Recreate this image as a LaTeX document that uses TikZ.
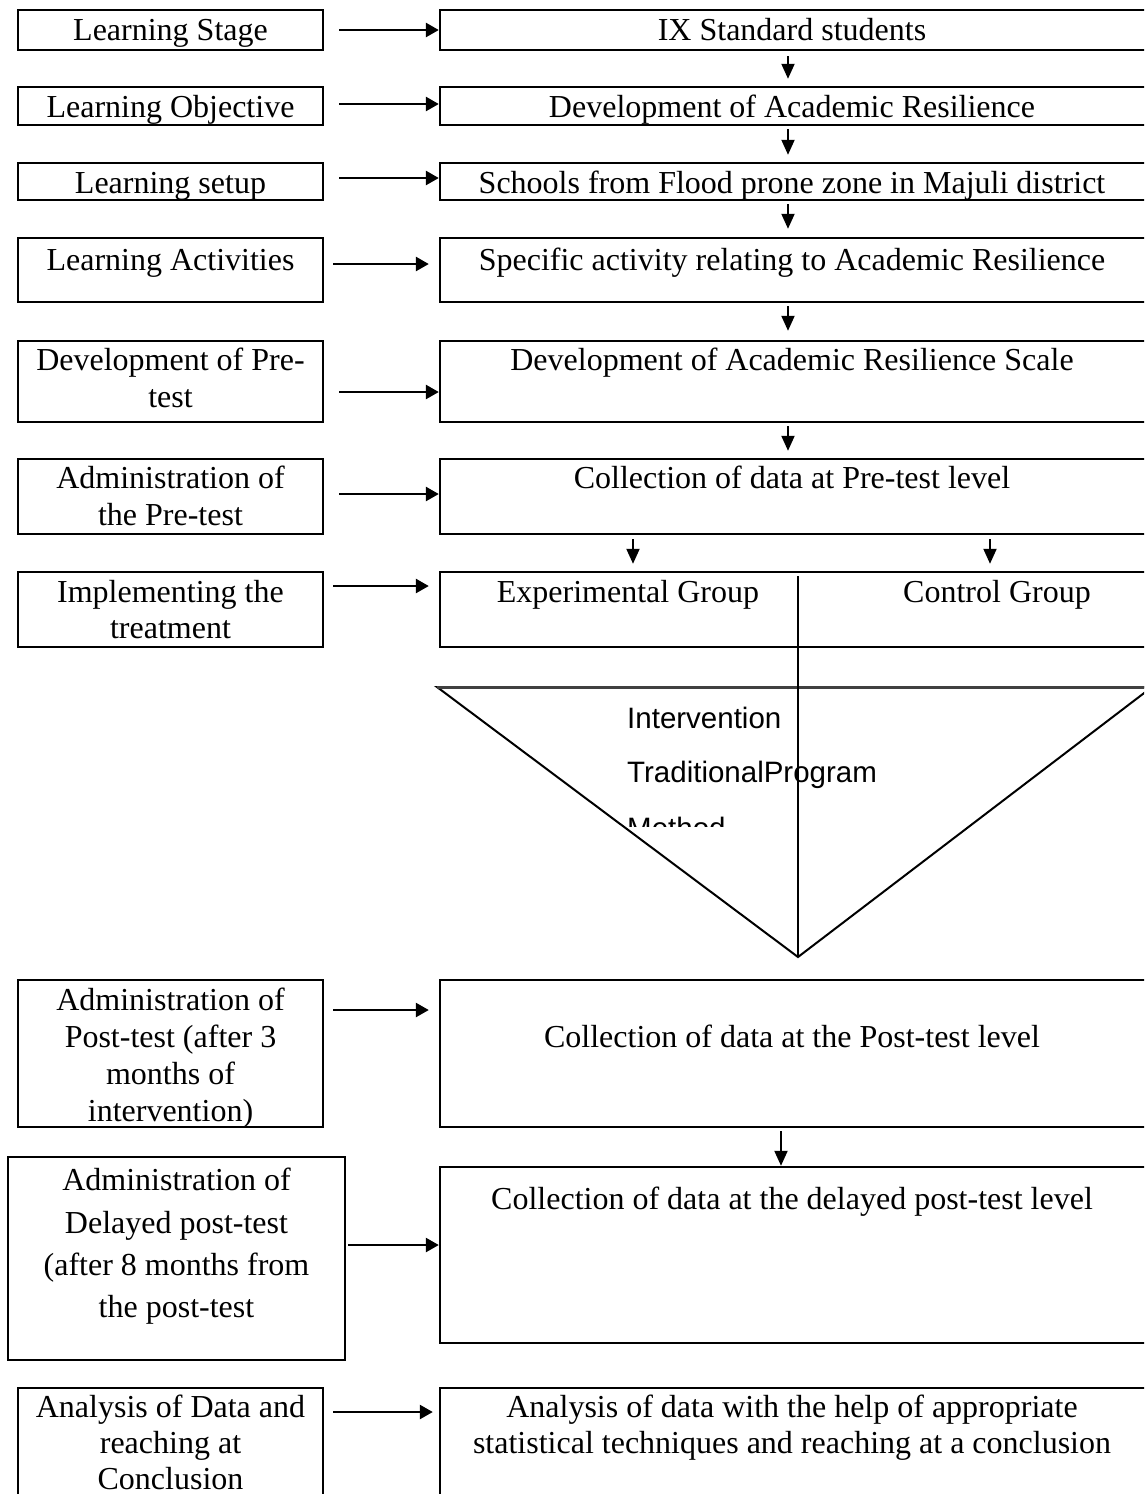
\documentclass[tikz,border=0pt]{standalone}
\usepackage{fontspec}
\setmainfont{Liberation Serif}
\newfontfamily\trisans{Liberation Sans}
\usetikzlibrary{arrows.meta,fit}
\begin{document}
\begin{tikzpicture}[x=1pt,y=-1pt,
  box/.style={draw, line width=2.4pt, inner sep=0pt, fill=none},
  txt/.style={anchor=base, inner sep=0pt, font=\fontsize{32}{37}\selectfont},
  ttxt/.style={anchor=base west, inner sep=0pt, font=\trisans\fontsize{29.5}{35}\selectfont},
  harr/.style={line width=2.6pt, -{Triangle[length=13pt,width=14pt]}},
  varr/.style={line width=2pt, -{Triangle[length=15pt,width=13pt]}},
  thin/.style={line width=2pt}]
\useasboundingbox (0,0) rectangle (1144,1494);
\fill[white] (0,0) rectangle (1144,1494);
\clip (0,0) rectangle (1144,1494);

% ---- boxes ----
\node[box, fit={(18,10)(323,50)}] (L1) {};
\node[box, fit={(440,10)(1150,50)}] (R1) {};
\node[box, fit={(18,87)(323,125)}] (L2) {};
\node[box, fit={(440,87)(1150,125)}] (R2) {};
\node[box, fit={(18,163)(323,200)}] (L3) {};
\node[box, fit={(440,163)(1150,200)}] (R3) {};
\node[box, fit={(18,238)(323,302)}] (L4) {};
\node[box, fit={(440,238)(1150,302)}] (R4) {};
\node[box, fit={(18,341)(323,422)}] (L5) {};
\node[box, fit={(440,341)(1150,422)}] (R5) {};
\node[box, fit={(18,459)(323,534)}] (L6) {};
\node[box, fit={(440,459)(1150,534)}] (R6) {};
\node[box, fit={(18,572)(323,647)}] (L7) {};
\node[box, fit={(440,572)(1150,647)}] (R7) {};
\node[box, fit={(18,980)(323,1127)}] (L8) {};
\node[box, fit={(440,980)(1150,1127)}] (R8) {};
\node[box, fit={(8,1157)(345,1360)}] (L9) {};
\node[box, fit={(440,1167)(1150,1343)}] (R9) {};
\node[box, fit={(18,1388)(323,1510)}] (L10) {};
\node[box, fit={(440,1388)(1150,1510)}] (R10) {};

% ---- triangle and divider ----
\coordinate (TL) at (437,687);
\coordinate (TR) at (1152,687);
\coordinate (TB) at (798,957);
\coordinate (DV) at (798,576);
\draw[thin, line join=miter] (TL) -- (TR) -- (TB) -- cycle;
\draw[line width=3pt, black!75] (TL) -- (TR);
\draw[thin] (DV) -- (TB);

% ---- horizontal arrows ----
\coordinate (h1) at (0,30);
\coordinate (h2) at (0,104);
\coordinate (h3) at (0,178);
\coordinate (h4) at (0,264);
\coordinate (h5) at (0,392);
\coordinate (h6) at (0,494);
\coordinate (h7) at (0,586);
\coordinate (h8) at (0,1010);
\coordinate (h9) at (0,1245);
\coordinate (h10) at (0,1412);
\draw[harr, shorten <=15pt] (L1.east |- h1) -- (R1.west |- h1);
\draw[harr, shorten <=15pt] (L2.east |- h2) -- (R2.west |- h2);
\draw[harr, shorten <=15pt] (L3.east |- h3) -- (R3.west |- h3);
\draw[harr, shorten <=9pt, shorten >=10pt] (L4.east |- h4) -- (R4.west |- h4);
\draw[harr, shorten <=15pt] (L5.east |- h5) -- (R5.west |- h5);
\draw[harr, shorten <=15pt] (L6.east |- h6) -- (R6.west |- h6);
\draw[harr, shorten <=9pt, shorten >=10pt] (L7.east |- h7) -- (R7.west |- h7);
\draw[harr, shorten <=9pt, shorten >=10pt] (L8.east |- h8) -- (R8.west |- h8);
\draw[harr, shorten <=2pt] (L9.east |- h9) -- (R9.west |- h9);
\draw[harr, shorten <=9pt, shorten >=6pt] (L10.east |- h10) -- (R10.west |- h10);

% ---- vertical arrows ----
\coordinate (vx) at (788,0);
\coordinate (vxa) at (633,0);
\coordinate (vxb) at (990,0);
\coordinate (vxc) at (781,0);
\draw[varr, shorten <=5pt, shorten >=7pt] (R1.south -| vx) -- (R2.north -| vx);
\draw[varr, shorten <=3pt, shorten >=7pt] (R2.south -| vx) -- (R3.north -| vx);
\draw[varr, shorten <=3pt, shorten >=8pt] (R3.south -| vx) -- (R4.north -| vx);
\draw[varr, shorten <=3pt, shorten >=9pt] (R4.south -| vx) -- (R5.north -| vx);
\draw[varr, shorten <=3pt, shorten >=7pt] (R5.south -| vx) -- (R6.north -| vx);
\draw[varr, shorten <=4pt, shorten >=7pt] (R6.south -| vxa) -- (R7.north -| vxa);
\draw[varr, shorten <=4pt, shorten >=7pt] (R6.south -| vxb) -- (R7.north -| vxb);
\draw[varr, shorten <=3pt] (R8.south -| vxc) -- (R9.north -| vxc);

% ---- left texts ----
\node[txt] (lt1) at (170.5,40) {Learning Stage};
\node[txt] (lt2) at (170.5,117) {Learning Objective};
\node[txt] (lt3) at (170.5,193) {Learning setup};
\node[txt] (lt4) at (170.5,270) {Learning Activities};
\node[txt] (lt5a) at (170.5,370) {Development of Pre-};
\node[txt] (lt5b) at (170.5,407) {test};
\node[txt] (lt6a) at (170.5,488) {Administration of};
\node[txt] (lt6b) at (170.5,525) {the Pre-test};
\node[txt] (lt7a) at (170.5,602) {Implementing the};
\node[txt] (lt7b) at (170.5,638) {treatment};
\node[txt] (lt8a) at (170.5,1010) {Administration of};
\node[txt] (lt8b) at (170.5,1047) {Post-test (after 3};
\node[txt] (lt8c) at (170.5,1084) {months of};
\node[txt] (lt8d) at (170.5,1121) {intervention)};
\node[txt] (lt9a) at (176.5,1190) {Administration of};
\node[txt] (lt9b) at (176.5,1233) {Delayed post-test};
\node[txt] (lt9c) at (176.5,1275) {(after 8 months from};
\node[txt] (lt9d) at (176.5,1317) {the post-test};
\node[txt] (lt10a) at (170.5,1417) {Analysis of Data and};
\node[txt] (lt10b) at (170.5,1453) {reaching at};
\node[txt] (lt10c) at (170.5,1489) {Conclusion};

% ---- right texts ----
\node[txt] (rt1) at (792,40) {IX Standard students};
\node[txt] (rt2) at (792,117) {Development of Academic Resilience};
\node[txt] (rt3) at (792,193) {Schools from Flood prone zone in Majuli district};
\node[txt] (rt4) at (792,270) {Specific activity relating to Academic Resilience};
\node[txt] (rt5) at (792,370) {Development of Academic Resilience Scale};
\node[txt] (rt6) at (792,488) {Collection of data at Pre-test level};
\node[txt] (rt7a) at (628,602) {Experimental Group};
\node[txt] (rt7b) at (997,602) {Control Group};
\node[txt] (rt8) at (792,1047) {Collection of data at the Post-test level};
\node[txt] (rt9) at (792,1209) {Collection of data at the delayed post-test level};
\node[txt] (rt10a) at (792,1417) {Analysis of data with the help of appropriate};
\node[txt] (rt10b) at (792,1453) {statistical techniques and reaching at a conclusion};

% ---- triangle texts ----
\node[ttxt] (tt1) at (627,728) {Intervention};
\node[ttxt] (tt2) at (627,782) {TraditionalProgram};
\begin{scope}
\clip (600,800) rectangle (800,826);
\node[ttxt] (tt3) at (627,838) {Method};
\end{scope}
\end{tikzpicture}
\end{document}
